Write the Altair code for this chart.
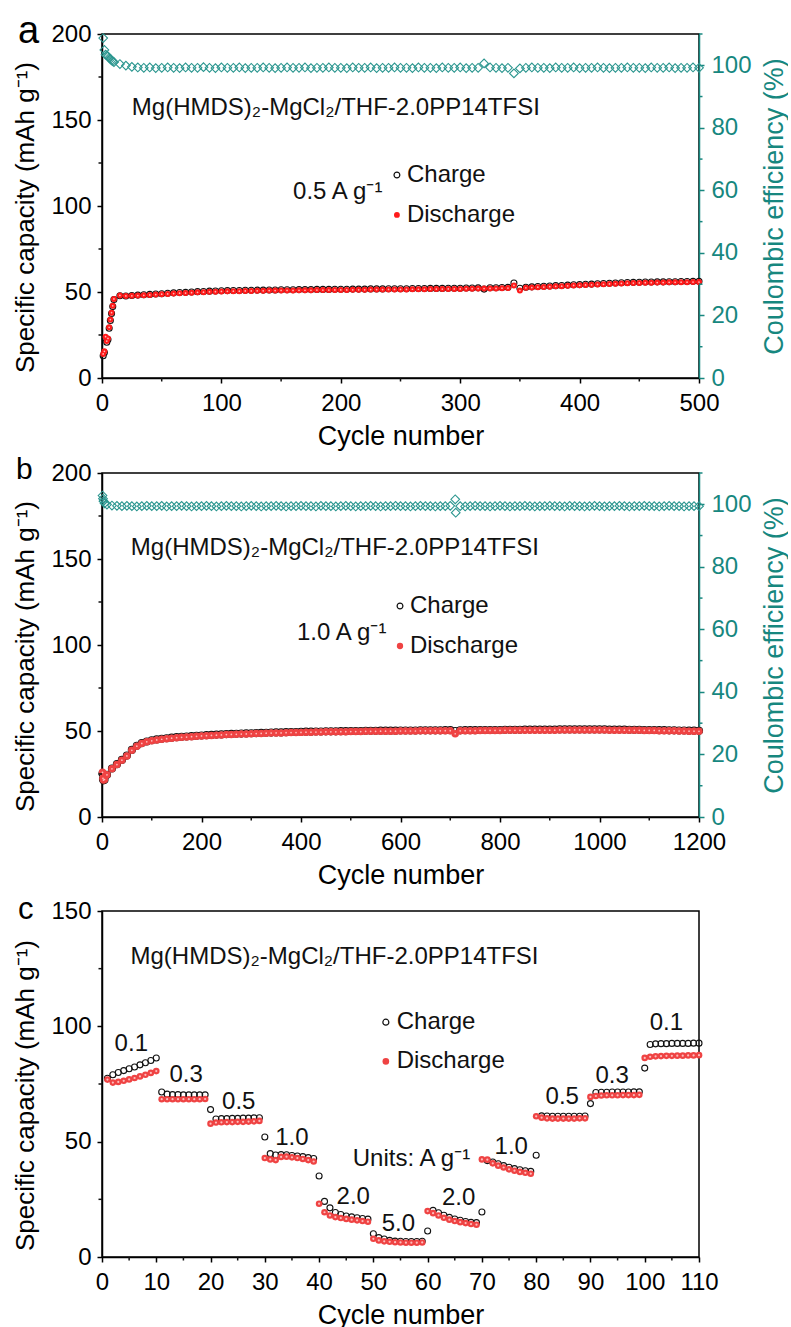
import altair as alt
import pandas as pd

FONT = "Liberation Sans"
TEAL = "#17877f"
TEAL_MARK = "#2b968f"
BLACK = "#111111"
RED_A = "#ff1a1a"
RED_BC = "#ef4343"
PINK = "#ffd2d2"

W = 597
H_AB = 344
H_C = 346
FS = 24

# ---------------- panel a: long cycling at 0.5 A g-1 ----------------
CYC_A = list(range(1, 11)) + list(range(15, 501, 5))
DIS_A = [
    14.0, 15.5, 24.0, 21.5, 23.0, 29.5, 34.0, 38.0, 42.0, 46.0,
    48.0, 47.7, 47.8, 47.9, 48.1, 48.3, 48.5, 48.7, 48.9, 49.1,
    49.3, 49.4, 49.6, 49.8, 49.9, 50.1, 50.2, 50.3, 50.4, 50.5,
    50.5, 50.6, 50.6, 50.7, 50.7, 50.8, 50.8, 50.9, 50.9, 50.9,
    51.0, 51.0, 51.0, 51.1, 51.1, 51.1, 51.2, 51.2, 51.2, 51.3,
    51.3, 51.3, 51.4, 51.4, 51.4, 51.5, 51.5, 51.5, 51.5, 51.6,
    51.6, 51.6, 51.7, 51.7, 51.7, 51.8, 51.8, 51.8, 51.9, 51.9,
    52.0, 52.0, 52.1, 52.1, 52.2, 52.3, 53.8, 50.8, 52.4, 52.6,
    52.8, 52.9, 53.1, 53.3, 53.4, 53.6, 53.8, 53.9, 54.1, 54.2,
    54.4, 54.5, 54.7, 54.8, 55.0, 55.1, 55.2, 55.3, 55.4, 55.4,
    55.5, 55.5, 55.6, 55.6, 55.7, 55.7, 55.8, 55.8,
]
CHG_A = [
    12.9, 14.8, 23.1, 20.8, 22.4, 28.9, 33.4, 37.5, 41.5, 45.6,
    47.8, 47.7, 48.0, 48.2, 48.4, 48.6, 48.8, 49.0, 49.3, 49.5,
    49.7, 49.8, 50.0, 50.2, 50.3, 50.5, 50.6, 50.7, 50.8, 50.9,
    50.9, 51.0, 51.0, 51.1, 51.1, 51.2, 51.2, 51.3, 51.3, 51.3,
    51.4, 51.4, 51.4, 51.5, 51.5, 51.5, 51.6, 51.6, 51.6, 51.7,
    51.7, 51.7, 51.8, 51.8, 51.8, 51.9, 51.9, 51.9, 51.9, 52.0,
    52.0, 52.0, 52.1, 52.1, 52.1, 52.2, 52.2, 52.2, 52.3, 52.3,
    52.4, 51.7, 52.5, 52.5, 52.6, 52.7, 55.2, 52.2, 52.8, 53.0,
    53.2, 53.3, 53.5, 53.7, 53.8, 54.0, 54.2, 54.3, 54.5, 54.6,
    54.8, 54.9, 55.1, 55.2, 55.4, 55.5, 55.6, 55.7, 55.8, 55.8,
    55.9, 55.9, 56.0, 56.0, 56.1, 56.1, 56.2, 56.2,
]
CE_A = [
    108.7, 104.9, 103.4, 103.2, 102.8, 102.4, 102.0, 101.6, 101.3, 101.0,
    100.4, 99.9, 99.5, 99.3, 99.2, 99.3, 99.1, 99.2, 99.3, 99.2,
    99.1, 99.3, 99.2, 99.2, 99.4, 99.2, 99.1, 99.3, 99.2, 99.2,
    99.3, 99.1, 99.2, 99.2, 99.3, 99.2, 99.1, 99.2, 99.3, 99.2,
    99.2, 99.3, 99.1, 99.2, 99.2, 99.3, 99.2, 99.2, 99.1, 99.3,
    99.2, 99.2, 99.3, 99.1, 99.2, 99.2, 99.3, 99.2, 99.2, 99.1,
    99.3, 99.2, 99.2, 99.1, 99.3, 99.2, 99.2, 99.3, 99.1, 99.2,
    99.2, 100.6, 99.3, 99.2, 99.1, 99.2, 97.4, 99.0, 99.2, 99.3,
    99.2, 99.2, 99.1, 99.3, 99.2, 99.2, 99.3, 99.1, 99.2, 99.2,
    99.3, 99.2, 99.1, 99.2, 99.2, 99.3, 99.2, 99.2, 99.1, 99.3,
    99.2, 99.2, 99.3, 99.1, 99.2, 99.2, 99.3, 99.2,
]

# ---------------- panel b: long cycling at 1.0 A g-1 ----------------
CYC_B = [1, 2, 3, 5] + list(range(10, 1201, 10))
DIS_B = [
    26.0, 22.5, 21.5, 21.8,
    24.5, 28.0, 30.5, 33.0, 35.5, 38.8, 41.2, 42.8, 43.7, 44.3,
    44.8, 45.2, 45.5, 45.8, 46.1, 46.3, 46.5, 46.7, 46.9, 47.1,
    47.3, 47.4, 47.6, 47.7, 47.9, 48.0, 48.1, 48.2, 48.3, 48.4,
    48.5, 48.6, 48.7, 48.8, 48.9, 48.9, 49.0, 49.1, 49.1, 49.2,
    49.3, 49.3, 49.4, 49.4, 49.5, 49.5, 49.5, 49.6, 49.6, 49.7,
    49.7, 49.7, 49.8, 49.8, 49.8, 49.9, 49.9, 49.9, 49.9, 50.0,
    50.0, 50.0, 50.0, 50.1, 50.1, 50.1, 50.1, 50.1, 50.2, 50.2,
    48.4, 50.1, 50.2, 50.2, 50.2, 50.3, 50.3, 50.3, 50.3, 50.3,
    50.4, 50.4, 50.4, 50.4, 50.5, 50.5, 50.5, 50.5, 50.5, 50.5,
    50.5, 50.6, 50.6, 50.6, 50.6, 50.6, 50.6, 50.6, 50.6, 50.6,
    50.6, 50.5, 50.5, 50.5, 50.5, 50.4, 50.4, 50.4, 50.3, 50.3,
    50.3, 50.2, 50.2, 50.1, 50.1, 50.0, 50.0, 49.9, 49.9, 49.8,
]
CHG_B = [
    25.3, 22.1, 21.3, 21.7,
    24.5, 28.2, 30.7, 33.2, 35.7, 39.0, 41.4, 43.0, 43.9, 44.6,
    45.1, 45.5, 45.8, 46.1, 46.4, 46.6, 46.8, 47.0, 47.2, 47.4,
    47.6, 47.7, 47.9, 48.0, 48.2, 48.3, 48.4, 48.5, 48.6, 48.7,
    48.8, 48.9, 49.0, 49.1, 49.2, 49.2, 49.3, 49.4, 49.4, 49.5,
    49.6, 49.6, 49.7, 49.7, 49.8, 49.8, 49.8, 49.9, 49.9, 50.0,
    50.0, 50.0, 50.1, 50.1, 50.1, 50.2, 50.2, 50.2, 50.2, 50.3,
    50.3, 50.3, 50.3, 50.4, 50.4, 50.4, 50.4, 50.4, 50.5, 50.5,
    50.0, 50.4, 50.5, 50.5, 50.5, 50.6, 50.6, 50.6, 50.6, 50.6,
    50.7, 50.7, 50.7, 50.7, 50.8, 50.8, 50.8, 50.8, 50.8, 50.8,
    50.8, 50.9, 50.9, 50.9, 50.9, 50.9, 50.9, 50.9, 50.9, 50.9,
    50.9, 50.8, 50.8, 50.8, 50.8, 50.7, 50.7, 50.7, 50.6, 50.6,
    50.6, 50.5, 50.5, 50.4, 50.4, 50.3, 50.3, 50.2, 50.2, 50.1,
]
CE_CYC_B = [1, 2, 3, 5] + list(range(10, 711, 10)) + [711] + list(range(720, 1201, 10))
CE_B = [
    102.8, 101.8, 101.0, 100.3,
    99.9, 99.6, 99.5, 99.4, 99.5, 99.4, 99.3, 99.4, 99.5, 99.4,
    99.4, 99.5, 99.3, 99.4, 99.4, 99.5, 99.4, 99.3, 99.4, 99.4,
    99.5, 99.4, 99.3, 99.4, 99.5, 99.4, 99.4, 99.3, 99.4, 99.5,
    99.4, 99.3, 99.4, 99.4, 99.5, 99.4, 99.3, 99.4, 99.4, 99.5,
    99.4, 99.4, 99.3, 99.5, 99.4, 99.4, 99.3, 99.4, 99.5, 99.4,
    99.3, 99.4, 99.4, 99.5, 99.4, 99.3, 99.4, 99.4, 99.5, 99.4,
    99.4, 99.3, 99.4, 99.5, 99.4, 99.4, 99.3, 99.4, 99.4, 99.5,
    101.6, 97.3,
    99.4, 99.3, 99.4, 99.5, 99.4, 99.4, 99.3, 99.4, 99.5,
    99.4, 99.3, 99.4, 99.4, 99.5, 99.4, 99.3, 99.4, 99.4, 99.5,
    99.4, 99.4, 99.3, 99.5, 99.4, 99.4, 99.3, 99.4, 99.5, 99.4,
    99.3, 99.4, 99.4, 99.5, 99.4, 99.3, 99.4, 99.4, 99.5, 99.4,
    99.4, 99.3, 99.4, 99.5, 99.4, 99.4, 99.3, 99.4, 99.4, 99.4,
]

# ---------------- panel c: rate capability ----------------
CYC_C = list(range(1, 111))
DIS_C = [
    76.9, 75.6, 75.9, 76.4, 77.0, 77.6, 78.3, 79.0, 79.8, 80.6,
    68.4, 68.4, 68.4, 68.4, 68.4, 68.4, 68.4, 68.4, 68.5, 57.8,
    58.3, 58.4, 58.5, 58.5, 58.6, 58.6, 58.7, 58.8, 59.0, 42.9,
    42.3, 42.0, 43.4, 43.5, 43.2, 42.9, 42.5, 42.0, 41.4, 23.1,
    19.4, 18.0, 17.3, 16.9, 16.5, 16.2, 15.9, 15.6, 15.3, 7.9,
    7.2, 6.8, 6.6, 6.4, 6.3, 6.2, 6.2, 6.2, 6.3, 19.9,
    19.0, 18.0, 17.0, 16.2, 15.6, 15.1, 14.7, 14.3, 14.0, 42.3,
    42.2, 40.6, 39.6, 38.8, 38.0, 37.4, 36.9, 36.5, 36.1, 61.0,
    60.4, 60.1, 60.0, 60.0, 60.0, 60.0, 60.0, 60.1, 60.1, 69.4,
    69.8, 70.0, 70.1, 70.1, 70.1, 70.2, 70.2, 70.2, 70.3, 86.3,
    86.8, 87.0, 87.1, 87.2, 87.2, 87.3, 87.3, 87.4, 87.4, 87.5,
]
CHG_C = [
    77.5, 79.0, 80.0, 80.8, 81.6, 82.4, 83.3, 84.2, 85.2, 86.3,
    71.5, 70.6, 70.4, 70.4, 70.3, 70.3, 70.3, 70.3, 70.3, 63.9,
    59.8, 60.0, 60.0, 60.1, 60.1, 60.2, 60.2, 60.3, 60.4, 52.0,
    44.8, 44.2, 44.4, 44.3, 44.0, 43.8, 43.5, 43.1, 42.7, 35.1,
    24.1, 21.3, 19.3, 18.4, 17.8, 17.4, 17.0, 16.7, 16.4, 10.1,
    8.4, 7.8, 7.2, 6.9, 6.8, 6.7, 6.7, 6.7, 6.8, 11.3,
    20.2, 19.2, 18.1, 17.2, 16.5, 15.9, 15.4, 15.0, 14.9, 19.5,
    41.8, 41.2, 40.4, 39.6, 38.9, 38.3, 37.8, 37.4, 37.1, 44.1,
    61.2, 61.1, 61.0, 61.0, 61.0, 61.0, 61.0, 61.0, 61.1, 66.5,
    71.3, 71.4, 71.4, 71.5, 71.5, 71.5, 71.5, 71.6, 71.6, 81.9,
    92.1, 92.4, 92.5, 92.5, 92.6, 92.6, 92.6, 92.6, 92.7, 92.7,
]
RATE_TEXT = ["0.1", "0.3", "0.5", "1.0", "2.0", "5.0", "2.0", "1.0", "0.5", "0.3", "0.1"]
RATE_X = [5.4, 15.5, 25.2, 35.0, 46.3, 54.6, 65.7, 75.4, 84.8, 94.0, 104.0]
RATE_Y = [92.3, 78.7, 67.0, 51.4, 25.8, 14.5, 25.4, 47.7, 69.4, 78.5, 101.6]

ELECTROLYTE = "Mg(HMDS)\u2082-MgCl\u2082/THF-2.0PP14TFSI"
Y_TITLE = "Specific capacity (mAh g\u207b\u00b9)"
CE_TITLE = "Coulombic efficiency (%)"


def xenc(field, dom, ticks=None):
    sc = alt.Scale(domain=dom, nice=False, zero=False)
    if ticks is None:
        return alt.X(f"{field}:Q", scale=sc)
    return alt.X(f"{field}:Q", scale=sc,
                 axis=alt.Axis(values=ticks, title="Cycle number", format="d"))


def yenc(field, dom, ticks=None, title=None, right=False, h=H_AB):
    sc = alt.Scale(domain=dom, nice=False, zero=False)
    if ticks is None:
        return alt.Y(f"{field}:Q", scale=sc)
    if right:
        ax = alt.Axis(values=ticks, title=title, orient="right", format="d",
                      labelColor=TEAL, tickColor=TEAL, domainColor=TEAL,
                      titleColor=TEAL, titleAngle=270, titleBaseline="top",
                      labelPadding=7, titlePadding=10)
    else:
        ax = alt.Axis(values=ticks, title=title, orient="left", format="d",
                      titleFontSize=26, titleY=h / 2 + 11)
    return alt.Y(f"{field}:Q", scale=sc, axis=ax)


def minor_x(values, dom, h):
    d = pd.DataFrame({"m": values})
    return alt.Chart(d).mark_rule(color=BLACK, strokeWidth=1.5).encode(
        x=xenc("m", dom), y=alt.value(h), y2=alt.value(h + 3.5))


def minor_y(values, xdom, ydom, at_right=False, color=BLACK):
    d = pd.DataFrame({"m": values})
    x0, x1 = (W, W + 3.5) if at_right else (0, -3.5)
    return alt.Chart(d).mark_rule(color=color, strokeWidth=1.5).encode(
        y=yenc("m", ydom), x=alt.value(x0), x2=alt.value(x1))


def text_layer(xs, ys, labels, xdom, ydom, size=FS, align="left"):
    d = pd.DataFrame({"x": xs, "y": ys, "t": labels})
    return alt.Chart(d).mark_text(align=align, baseline="middle", fontSize=size,
                                  font=FONT, color=BLACK).encode(
        x=xenc("x", xdom), y=yenc("y", ydom), text="t:N")


def letter(ch, dx, dy, size):
    d = pd.DataFrame({"t": [ch]})
    return alt.Chart(d).mark_text(align="left", baseline="alphabetic", fontSize=size,
                                  font=FONT, color="black").encode(
        x=alt.value(dx), y=alt.value(dy), text="t:N")


def legend_layers(xs, ys_c, ys_d, xt, xdom, ydom, red, dsize, csize):
    pc = pd.DataFrame({"x": [xs], "y": [ys_c]})
    pdis = pd.DataFrame({"x": [xs], "y": [ys_d]})
    return [
        alt.Chart(pc).mark_point(shape="circle", filled=False, color=BLACK,
                                 strokeWidth=1.2, size=csize, opacity=1).encode(
            x=xenc("x", xdom), y=yenc("y", ydom)),
        alt.Chart(pdis).mark_circle(color=red, size=dsize, opacity=1).encode(
            x=xenc("x", xdom), y=yenc("y", ydom)),
        text_layer([xt, xt], [ys_c, ys_d], ["Charge", "Discharge"], xdom, ydom),
    ]


def series_layers(cyc, chg, dis, xdom, xticks, ydom, yticks, red, dsize, csize, hsize, h):
    df = pd.DataFrame({"cycle": cyc, "charge": chg, "discharge": dis})
    charge = alt.Chart(df).mark_point(shape="circle", filled=False, color=BLACK,
                                      strokeWidth=1.1, size=csize, opacity=1).encode(
        x=xenc("cycle", xdom, xticks),
        y=yenc("charge", ydom, yticks, Y_TITLE, h=h))
    discharge = alt.Chart(df).mark_circle(color=red, size=dsize, opacity=1).encode(
        x=xenc("cycle", xdom), y=yenc("discharge", ydom))
    shine = alt.Chart(df).mark_circle(color=PINK, size=hsize, opacity=0.85).encode(
        x=xenc("cycle", xdom), y=yenc("discharge", ydom))
    return [charge, discharge, shine]


def ce_layers(cyc, ce, xdom):
    df = pd.DataFrame({"cycle": cyc, "ce": ce})
    pts = alt.Chart(df).mark_point(shape="diamond", filled=False, color=TEAL_MARK,
                                   strokeWidth=1.1, size=75, opacity=1).encode(
        x=xenc("cycle", xdom),
        y=yenc("ce", [0, 110], [0, 20, 40, 60, 80, 100], CE_TITLE, right=True))
    return alt.layer(pts, minor_y(list(range(10, 111, 20)), xdom, [0, 110],
                                  at_right=True, color=TEAL))


# ----- panel a -----
XA = [0, 500]
YA = [0, 200]
cap_a = alt.layer(
    *series_layers(CYC_A, CHG_A, DIS_A, XA, [0, 100, 200, 300, 400, 500], YA,
                   [0, 50, 100, 150, 200], RED_A, 36, 36, 3, H_AB),
    minor_x(list(range(50, 500, 100)), XA, H_AB),
    minor_y([25, 75, 125, 175], XA, YA),
    text_layer([25], [157], [ELECTROLYTE], XA, YA),
    text_layer([160], [108], ["0.5 A g\u207b\u00b9"], XA, YA),
    *legend_layers(247, 118, 94.8, 255.4, XA, YA, RED_A, 34, 34),
    letter("a", -84, 9, 38),
)
panel_a = alt.layer(cap_a, ce_layers(CYC_A, CE_A, XA)).resolve_scale(
    y="independent").properties(width=W, height=H_AB)

# ----- panel b -----
XB = [0, 1200]
cap_b = alt.layer(
    *series_layers(CYC_B, CHG_B, DIS_B, XB, [0, 200, 400, 600, 800, 1000, 1200], YA,
                   [0, 50, 100, 150, 200], RED_BC, 56, 50, 3, H_AB),
    minor_x(list(range(100, 1200, 200)), XB, H_AB),
    minor_y([25, 75, 125, 175], XB, YA),
    text_layer([58], [156.4], [ELECTROLYTE], XB, YA),
    text_layer([392], [107], ["1.0 A g\u207b\u00b9"], XB, YA),
    *legend_layers(599, 122.7, 99.4, 619, XB, YA, RED_BC, 40, 34),
    letter("b", -86, 6, 30),
)
panel_b = alt.layer(cap_b, ce_layers(CE_CYC_B, CE_B, XB)).resolve_scale(
    y="independent").properties(width=W, height=H_AB)

# ----- panel c -----
XC = [0, 110]
YC = [0, 150]
panel_c = alt.layer(
    *series_layers(CYC_C, CHG_C, DIS_C, XC, list(range(0, 111, 10)), YC,
                   [0, 50, 100, 150], RED_BC, 44, 36, 5, H_C),
    minor_x(list(range(5, 110, 10)), XC, H_C),
    minor_y([25, 75, 125], XC, YC),
    text_layer([5.25], [130], [ELECTROLYTE], XC, YC),
    text_layer(RATE_X, RATE_Y, RATE_TEXT, XC, YC, align="center"),
    text_layer([46.2], [42.5], ["Units: A g\u207b\u00b9"], XC, YC),
    *legend_layers(52.3, 101.8, 84.8, 54.3, XC, YC, RED_BC, 44, 36),
    letter("c", -84, 8, 31),
).properties(width=W, height=H_C)

chart = alt.vconcat(panel_a, panel_b, panel_c, spacing=4).properties(
    padding={"left": 12, "top": 12, "right": 0, "bottom": 0},
    background="white",
).configure(font=FONT).configure_view(
    stroke="black", strokeWidth=1.5
).configure_axis(
    labelFont=FONT, titleFont=FONT, labelFontSize=FS, titleFontSize=27,
    titleFontWeight="normal", labelColor="black", titleColor="black",
    domainColor="black", tickColor="black", domainWidth=1.5, tickWidth=1.5,
    tickSize=5, grid=False, labelFlush=False,
).configure_axisX(labelPadding=8, titlePadding=8).configure_axisLeft(
    labelPadding=6, titlePadding=12
)

chart.save("out.html", embed_options={"renderer": "svg", "actions": False})
